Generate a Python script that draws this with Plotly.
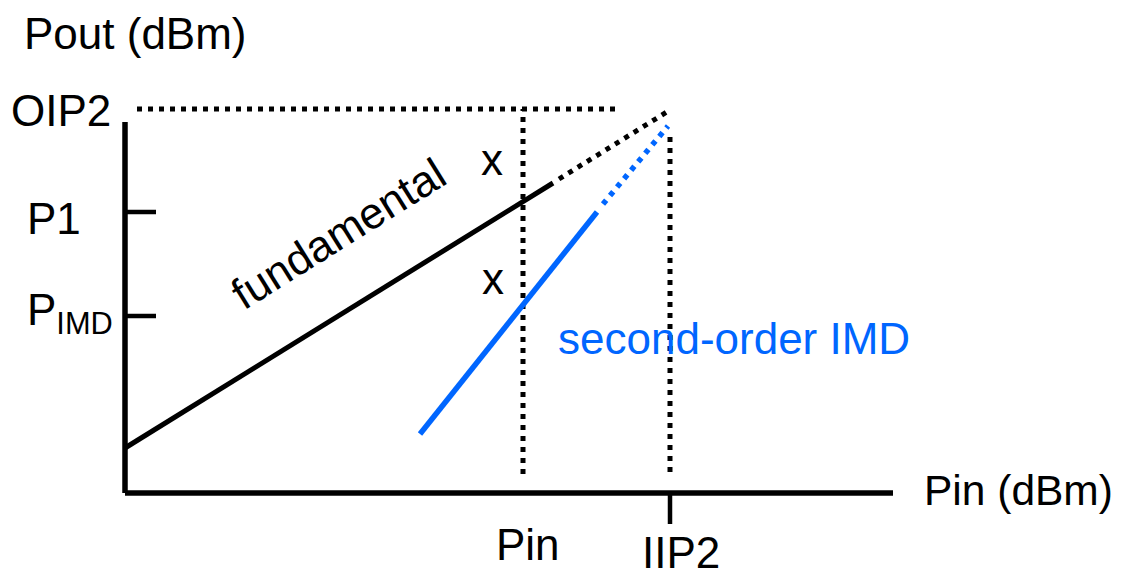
import plotly.graph_objects as go

# ---- data (arbitrary dB-like units; origin = axis corner) ----
pin_axis_x = [0, 76.8]
pout_axis_y = [0, 37.1]

tick_levels_y = {"P1": 28.1, "PIMD": 17.7}
tick_len = 3.1

pin_x = 39.8          # chosen input level
iip2_x = 54.5         # input intercept
oip2_y = 38.4         # output intercept

fund_solid_x = [0, 42.8]
fund_solid_y = [4.5, 31.0]
fund_dot_x = [43.4, 54.5]
fund_dot_y = [31.4, 38.3]

imd_solid_x = [29.5, 47.2]
imd_solid_y = [5.9, 28.1]
imd_dot_x = [47.8, 54.3]
imd_dot_y = [28.9, 36.7]

oip2_line_x = [1.2, 49.0]
pin_vline_y = [1.9, 38.4]
iip2_vline_y = [2.1, 36.0]
iip2_tick_y = [0, -3.1]

BLACK = "#000000"
BLUE = "#0066ff"
FONT = "Liberation Sans, Arial, sans-serif"
DOT = "5px,6px"

fig = go.Figure()


def line(x, y, color=BLACK, width=5, dash=None):
    fig.add_trace(go.Scatter(x=x, y=y, mode="lines", hoverinfo="skip",
                             line=dict(color=color, width=width, dash=dash),
                             showlegend=False))


# axes
line(pin_axis_x, [0, 0], width=5.5)
line([0, 0], pout_axis_y, width=5.5)
# y ticks
for lvl in tick_levels_y.values():
    line([0, tick_len], [lvl, lvl], width=4.5)
# x tick at IIP2
line([iip2_x, iip2_x], iip2_tick_y, width=4.5)

# dotted guide lines
line(oip2_line_x, [oip2_y, oip2_y], width=5, dash=DOT)
line([pin_x, pin_x], pin_vline_y, width=5, dash=DOT)
line([iip2_x, iip2_x], iip2_vline_y, width=5, dash=DOT)

# fundamental
line(fund_solid_x, fund_solid_y, width=5)
line(fund_dot_x, fund_dot_y, width=5, dash=DOT)

# second-order IMD
line(imd_solid_x, imd_solid_y, color=BLUE, width=5.5)
line(imd_dot_x, imd_dot_y, color=BLUE, width=5.5, dash=DOT)


def label(text, x, y, xanchor="center", color=BLACK, angle=0, size=44):
    fig.add_annotation(x=x, y=y, text=text, showarrow=False, xanchor=xanchor,
                       yanchor="middle", textangle=angle,
                       font=dict(family=FONT, size=size, color=color))


label("Pout (dBm)", -10.3, 46.0, xanchor="left")
label("OIP2", -11.6, 38.3, xanchor="left")
label("P1", -10.0, 27.5, xanchor="left")
label("P<sub>IMD</sub>", -10.0, 18.0, xanchor="left")
label("Pin (dBm)", 79.7, 0.3, xanchor="left", size=42.5)
label("Pin", 40.3, -5.1)
label("IIP2", 55.6, -5.9)
label("x", 36.7, 33.35)
label("x", 36.8, 21.45)
label("fundamental", 21.3, 26.0, angle=-32)
label("second-order IMD", 43.1, 15.45, xanchor="left", color=BLUE)

# the page body has an 8px margin, so the figure is 8px smaller and its
# ranges start 8px in
fig.update_layout(
    width=1119, height=561,
    margin=dict(l=0, r=0, t=0, b=0),
    paper_bgcolor="white", plot_bgcolor="white",
    xaxis=dict(range=[-11.7, 100.2], visible=False, fixedrange=True),
    yaxis=dict(range=[-7.6, 48.5], visible=False, fixedrange=True),
)

fig.write_html("out.html")
